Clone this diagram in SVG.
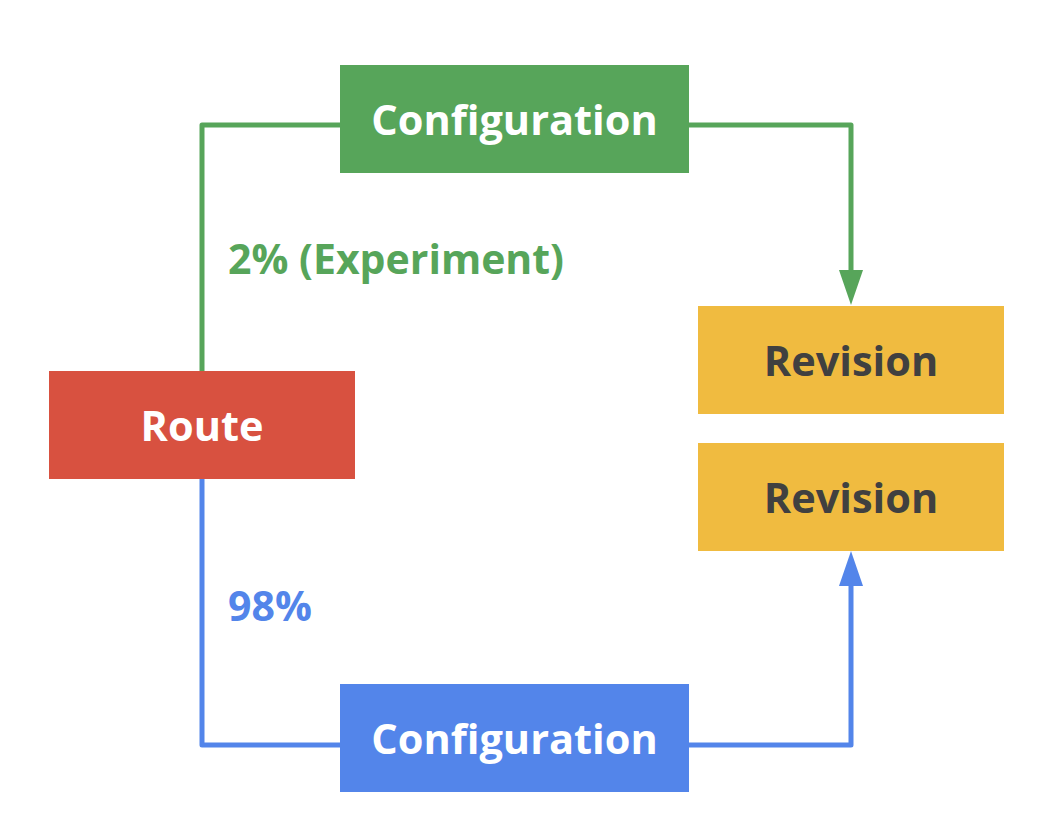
<svg xmlns="http://www.w3.org/2000/svg" width="1056" height="836" viewBox="0 0 1056 836">
<style>
.lbl{font-family:"Open Sans","Liberation Sans",sans-serif;font-weight:bold;font-size:41.5px;text-anchor:middle;dominant-baseline:central}
.w{fill:#ffffff}
.d{fill:#404040}
.edge{fill:none;stroke-width:5;stroke-linejoin:round}
.elbl{font-family:"Open Sans","Liberation Sans",sans-serif;font-weight:bold;font-size:41px}
</style>
<rect width="1056" height="836" fill="#ffffff"/>
<g id="connectors">
<path class="edge" stroke="#57A55A" d="M202,371 L202,125 L851,125 L851,270"/>
<path d="M839,270 L863,270 L851,305 Z" fill="#57A55A"/>
<path class="edge" stroke="#5385EA" d="M202,479 L202,745 L851,745 L851,586"/>
<path d="M839,586 L863,586 L851,551 Z" fill="#5385EA"/>
<text class="elbl" x="228" y="274" fill="#57A55A">2% (Experiment)</text>
<text class="elbl" x="228" y="621" fill="#5385EA">98%</text>
</g>
<g id="config-top">
<rect x="340" y="65" width="349" height="108" fill="#57A55A"/>
<text class="lbl w" x="514.5" y="119">Configuration</text>
</g>
<g id="route">
<rect x="49" y="371" width="306" height="108" fill="#D85140"/>
<text class="lbl w" x="202" y="425">Route</text>
</g>
<g id="revision-1">
<rect x="698" y="306" width="306" height="108" fill="#F0BB40"/>
<text class="lbl d" x="851" y="360">Revision</text>
</g>
<g id="revision-2">
<rect x="698" y="443" width="306" height="108" fill="#F0BB40"/>
<text class="lbl d" x="851" y="497">Revision</text>
</g>
<g id="config-bottom">
<rect x="340" y="684" width="349" height="108" fill="#5385EA"/>
<text class="lbl w" x="514.5" y="738">Configuration</text>
</g>
</svg>
